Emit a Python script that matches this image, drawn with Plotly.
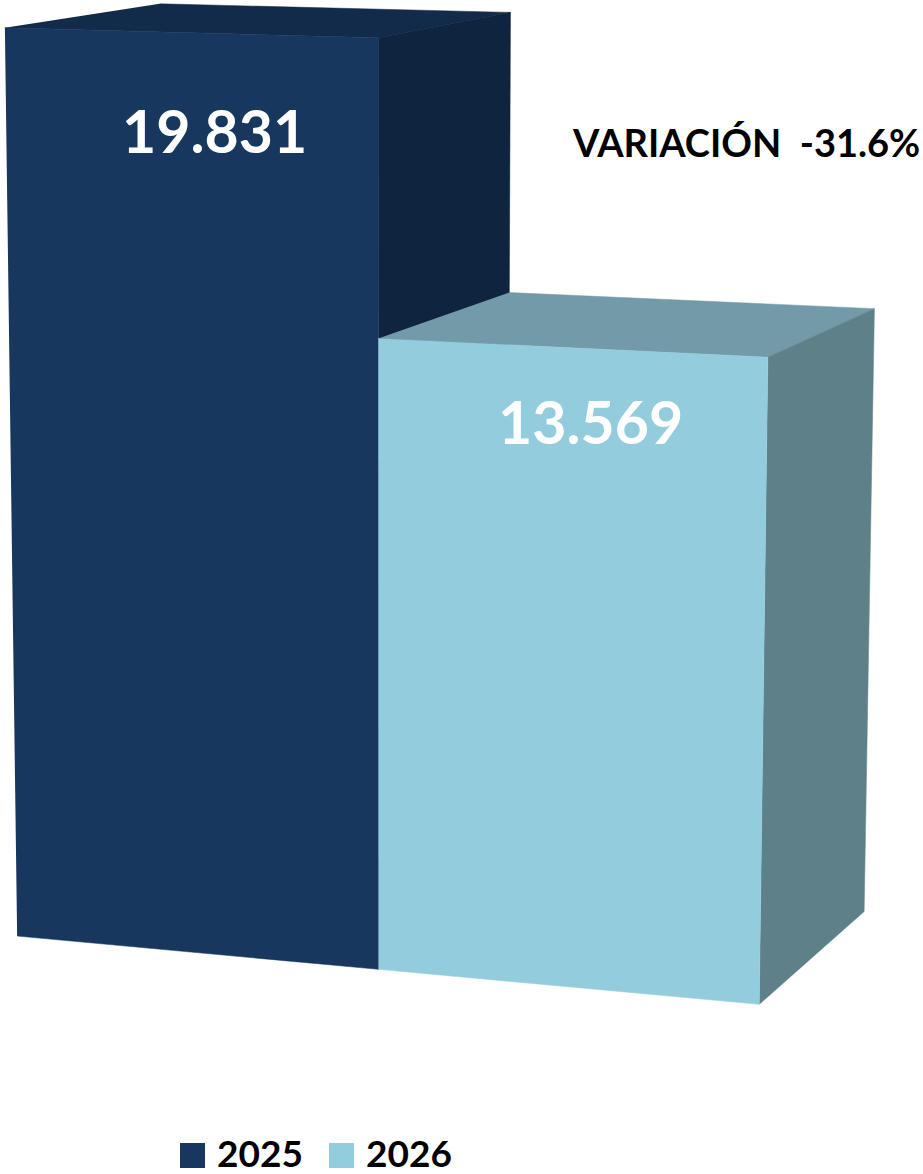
import numpy as np
import plotly.graph_objects as go

series = ["2025", "2026"]
values = [19831, 13569]
front_colors = ["#17375E", "#93CDDD"]
top_colors = ["#122B4A", "#729AA8"]
side_colors = ["#0F243E", "#5E8089"]
z_max = 20000
W, H = 923, 1174

# Perspective camera: (bar slot, depth, value / z_max, 1) -> homogeneous page position
CAM = np.array([
    [351.7807797, 161.2713360, -12.5082374, 17.1369242],
    [8.6416215, -22.9667661, -916.9239473, 936.0867354],
    [-0.0253796, 0.0713959, -0.0319829, 1.0],
])


def project(b, d, value):
    p = CAM @ np.array([b, d, value / z_max, 1.0])
    return p[0] / p[2], p[1] / p[2]


def face(corners):
    pts = [project(*c) for c in corners]
    return [p[0] for p in pts], [p[1] for p in pts]


fig = go.Figure()
for i, (name, v) in enumerate(zip(series, values)):
    faces = [
        ([(i, 0, v), (i + 1, 0, v), (i + 1, 1, v), (i, 1, v)], top_colors[i]),
        ([(i + 1, 0, 0), (i + 1, 1, 0), (i + 1, 1, v), (i + 1, 0, v)], side_colors[i]),
        ([(i, 0, 0), (i + 1, 0, 0), (i + 1, 0, v), (i, 0, v)], front_colors[i]),
    ]
    for c, col in faces:
        x, y = face(c)
        fig.add_trace(go.Scatter(x=x, y=y, fill="toself", fillcolor=col, mode="lines",
                                 line=dict(color=col, width=0.5), hoverinfo="skip",
                                 showlegend=False, name=name))

F = "Lato, 'Open Sans', sans-serif"
label_pos = [(214.5, 130), (590, 421)]
for v, (x, y) in zip(values, label_pos):
    fig.add_annotation(x=x, y=y, xref="x", yref="y", text=f"<b>{v/1000:.3f}</b>", showarrow=False,
                       font=dict(family=F, size=59, color="white"))
var = (values[1] - values[0]) / values[0] * 100
fig.add_annotation(x=745.5, y=142, xref="x", yref="y", text=f"<b>VARIACIÓN&nbsp;&nbsp;{var:.1f}%</b>",
                   showarrow=False, font=dict(family=F, size=38, color="black"))
leg_x = [180, 329]
for name, col, x0 in zip(series, front_colors, leg_x):
    fig.add_shape(type="rect", xref="x", yref="y", x0=x0, x1=x0 + 25, y0=1143, y1=1168,
                  fillcolor=col, line_width=0)
    fig.add_annotation(x=x0 + 35, y=1152, xref="x", yref="y", xanchor="left", text=f"<b>{name}</b>",
                       showarrow=False, font=dict(family=F, size=37, color="black"))
fig.update_layout(width=W, height=H, margin=dict(l=0, r=0, t=0, b=0), paper_bgcolor="white",
                  plot_bgcolor="white", showlegend=False,
                  xaxis=dict(range=[0, W], visible=False, fixedrange=True),
                  yaxis=dict(range=[H, 0], visible=False, fixedrange=True))
fig.write_html("out.html", config=dict(displayModeBar=False),
               post_script="document.body.style.margin='0';document.body.style.overflow='hidden';")
